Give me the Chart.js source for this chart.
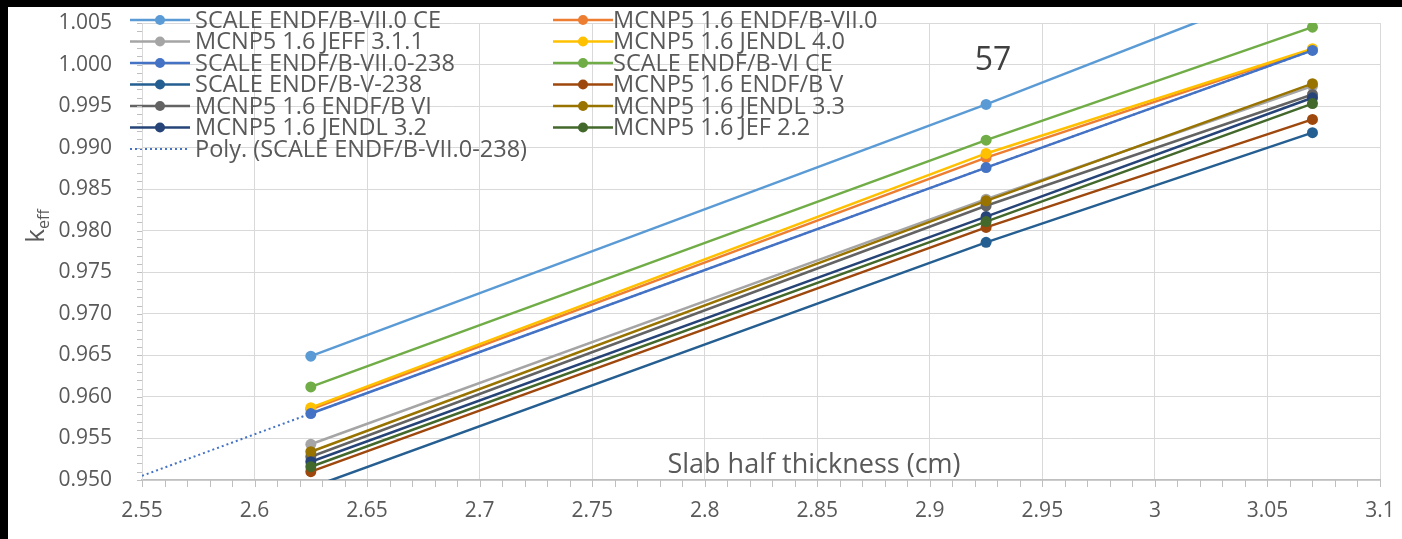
<!DOCTYPE html>
<html>
<head>
<meta charset="utf-8">
<script src="https://cdn.jsdelivr.net/npm/chart.js@4.4.1/dist/chart.umd.min.js"></script>
<style>
  html, body { margin: 0; padding: 0; background: #000; }
  canvas { display: block; }
</style>
</head>
<body>
<canvas id="chart" width="1402" height="539"></canvas>
<script>
// k_eff vs slab half thickness
const thickness = [2.625, 2.925, 3.07];

const scaleB7CE    = [0.9649, 0.9952, 1.0105];
const mcnpB7       = [0.9585, 0.9888, 1.0018];
const mcnpJeff311  = [0.9543, 0.9838, 0.9974];
const mcnpJendl40  = [0.9587, 0.9893, 1.0019];
const scaleB7_238  = [0.9580, 0.9876, 1.0017];
const scaleB6CE    = [0.9612, 0.9909, 1.0045];
const scaleB5_238  = [0.9491, 0.9786, 0.9918];
const mcnpB5       = [0.9510, 0.9804, 0.9934];
const mcnpB6       = [0.9528, 0.9830, 0.9964];
const mcnpJendl33  = [0.9534, 0.9836, 0.9977];
const mcnpJendl32  = [0.9522, 0.9817, 0.9960];
const mcnpJef22    = [0.9516, 0.9811, 0.9953];

// trendline (dotted) points
const polyX = [2.55, 2.625, 2.925, 3.07];
const polyY = [0.9505, 0.9580, 0.9876, 1.0017];

const yTicks = { min: 0.950, max: 1.005, step: 0.005 };
const xTicks = { min: 2.55, max: 3.1, step: 0.05 };

const seriesList = [
  ['SCALE ENDF/B-VII.0 CE',   scaleB7CE,   '#5B9BD5'],
  ['MCNP5 1.6 ENDF/B-VII.0',  mcnpB7,      '#ED7D31'],
  ['MCNP5 1.6 JEFF 3.1.1',    mcnpJeff311, '#A5A5A5'],
  ['MCNP5 1.6 JENDL 4.0',     mcnpJendl40, '#FFC000'],
  ['SCALE ENDF/B-VII.0-238',  scaleB7_238, '#4472C4'],
  ['SCALE ENDF/B-VI CE',      scaleB6CE,   '#70AD47'],
  ['SCALE ENDF/B-V-238',      scaleB5_238, '#255E91'],
  ['MCNP5 1.6 ENDF/B V',      mcnpB5,      '#9E480E'],
  ['MCNP5 1.6 ENDF/B VI',     mcnpB6,      '#636363'],
  ['MCNP5 1.6 JENDL 3.3',     mcnpJendl33, '#997300'],
  ['MCNP5 1.6 JENDL 3.2',     mcnpJendl32, '#264478'],
  ['MCNP5 1.6 JEF 2.2',       mcnpJef22,   '#43682B']
];

const FONT = '"Open Sans", "Liberation Sans", sans-serif';
const TXT = '#595959';

const datasets = seriesList.map(([label, vals, color], i) => ({
  label,
  data: thickness.map((x, j) => ({ x, y: vals[j] })),
  borderColor: color,
  backgroundColor: color,
  borderWidth: 2.5,
  pointRadius: 5.5,
  pointBorderWidth: 0,
  pointBackgroundColor: color,
  tension: 0,
  clip: 0,
  order: -i
}));
datasets.push({
  label: 'Poly. (SCALE ENDF/B-VII.0-238)',
  data: polyX.map((x, j) => ({ x, y: polyY[j] })),
  borderColor: '#4472C4',
  backgroundColor: '#4472C4',
  borderWidth: 2,
  borderDash: [2, 3],
  pointRadius: 0,
  clip: 0,
  order: -20,
  isPoly: true
});

// white page with the black frame of the screenshot
const pageBg = {
  id: 'pageBg',
  beforeDraw(chart) {
    const c = chart.ctx;
    c.save();
    c.fillStyle = '#000';
    c.fillRect(0, 0, chart.width, chart.height);
    c.fillStyle = '#fff';
    c.fillRect(8, 7, chart.width - 8, chart.height - 7);
    c.restore();
  }
};

// small minor tick marks along both axes
const minorTicks = {
  id: 'minorTicks',
  afterDraw(chart) {
    const c = chart.ctx, a = chart.chartArea;
    const xs = chart.scales.x, ys = chart.scales.y;
    c.save();
    c.strokeStyle = '#bfbfbf';
    c.lineWidth = 1;
    c.beginPath();
    for (let k = 0; k <= 55; k++) {
      const py = Math.round(ys.getPixelForValue(yTicks.min + k * 0.001)) + 0.5;
      c.moveTo(a.left - 5, py); c.lineTo(a.left, py);
    }
    for (let k = 0; k <= 55; k++) {
      const px = Math.round(xs.getPixelForValue(xTicks.min + k * 0.01)) + 0.5;
      c.moveTo(px, a.bottom); c.lineTo(px, a.bottom + 7);
    }
    c.stroke();
    c.restore();
  }
};

// annotations and axis titles
const labels = {
  id: 'labels',
  afterDatasetsDraw(chart) {
    const c = chart.ctx;
    c.save();
    c.fillStyle = '#404040';
    c.font = '32px ' + FONT;
    c.textAlign = 'center';
    c.textBaseline = 'middle';
    c.fillText('57', 993, 61);

    c.fillStyle = TXT;
    c.font = '27px ' + FONT;
    c.fillText('Slab half thickness (cm)', 814, 465);

    // rotated k_eff
    c.translate(36, 226);
    c.rotate(-Math.PI / 2);
    c.textAlign = 'left';
    c.textBaseline = 'alphabetic';
    c.font = '26px ' + FONT;
    const kw = c.measureText('k').width;
    c.font = '16px ' + FONT;
    const ew = c.measureText('eff').width;
    const x0 = -(kw + ew) / 2;
    c.font = '26px ' + FONT;
    c.fillText('k', x0, 8);
    c.font = '16px ' + FONT;
    c.fillText('eff', x0 + kw, 13);
    c.restore();
  }
};

// two-column legend inside the plot area
const legend2 = {
  id: 'legend2',
  afterDatasetsDraw(chart) {
    const c = chart.ctx;
    c.save();
    c.font = '23.5px ' + FONT;
    c.textBaseline = 'middle';
    c.textAlign = 'left';
    chart.data.datasets.forEach((ds, i) => {
      const col = i % 2, row = Math.floor(i / 2);
      const lx = 130 + col * 423;
      const ly = 20 + row * 21.5;
      c.strokeStyle = ds.borderColor;
      c.lineWidth = ds.isPoly ? 2 : 2.5;
      c.setLineDash(ds.isPoly ? [2, 3] : []);
      c.beginPath();
      c.moveTo(lx, ly); c.lineTo(lx + 60, ly);
      c.stroke();
      c.setLineDash([]);
      if (!ds.isPoly) {
        c.fillStyle = ds.borderColor;
        c.beginPath();
        c.arc(lx + 30, ly, 5, 0, Math.PI * 2);
        c.fill();
      }
      c.fillStyle = TXT;
      c.fillText(ds.label, lx + 65 - col * 5, ly + 1);
    });
    c.restore();
  }
};

new Chart(document.getElementById('chart'), {
  type: 'line',
  data: { datasets },
  plugins: [pageBg, minorTicks, labels, legend2],
  options: {
    responsive: false,
    animation: false,
    devicePixelRatio: 1,
    layout: { padding: { left: 0, right: 22, top: 23, bottom: 0 } },
    plugins: { legend: { display: false }, tooltip: { enabled: false } },
    scales: {
      x: {
        type: 'linear',
        min: xTicks.min, max: xTicks.max,
        afterFit: s => { s.height = 59; s.paddingLeft = 0; s.paddingRight = 0; },
        ticks: {
          stepSize: xTicks.step,
          color: TXT,
          font: { family: FONT, size: 21 },
          padding: 18,
          maxRotation: 0,
          autoSkip: false,
          callback: v => String(Number(v.toFixed(2)))
        },
        grid: { color: '#d9d9d9', lineWidth: 1, drawTicks: false },
        border: { color: '#bfbfbf', width: 1.5 }
      },
      y: {
        type: 'linear',
        min: yTicks.min, max: yTicks.max,
        afterFit: s => { s.width = 142; s.paddingTop = 0; s.paddingBottom = 0; },
        ticks: {
          stepSize: yTicks.step,
          color: TXT,
          font: { family: FONT, size: 21 },
          padding: 30,
          autoSkip: false,
          callback: v => v.toFixed(3)
        },
        grid: { color: '#d9d9d9', lineWidth: 1, drawTicks: false },
        border: { color: '#d9d9d9', width: 1 }
      }
    }
  }
});
</script>
</body>
</html>
